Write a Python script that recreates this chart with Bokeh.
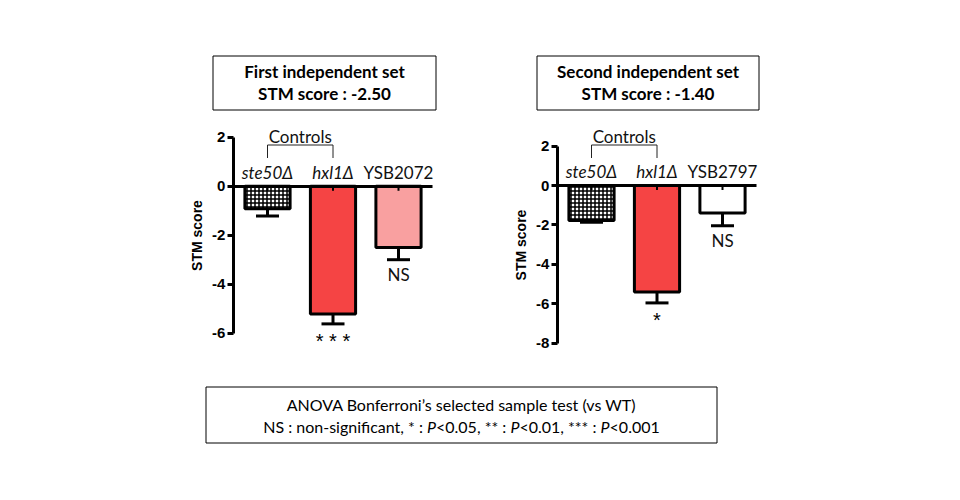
import subprocess
from bokeh.plotting import figure
from bokeh.models import (Range1d, LinearAxis, FixedTicker, BoxAnnotation,
                          ColumnDataSource, Whisker, TeeHead)
from bokeh.embed import file_html
from bokeh.resources import INLINE
from bokeh.core.properties import value

# ---------------- data ----------------
set1_categories = ["ste50Δ", "hxl1Δ", "YSB2072"]
set1_scores = [-0.92, -5.22, -2.50]
set1_errors = [0.30, 0.40, 0.50]
set1_signif = ["", "* * *", "NS"]
set1_ticks = [2, 0, -2, -4, -6]
set1_title = ["First independent set", "STM score : -2.50"]

set2_categories = ["ste50Δ", "hxl1Δ", "YSB2797"]
set2_scores = [-1.78, -5.40, -1.40]
set2_errors = [0.08, 0.56, 0.64]
set2_signif = ["", "*", "NS"]
set2_ticks = [2, 0, -2, -4, -6, -8]
set2_title = ["Second independent set", "STM score : -1.40"]

label_styles = ["italic", "italic", "normal"]
set1_fills = ["white", "#F54444", "#F9A0A0"]
set2_fills = ["white", "#F54444", "white"]
hatches = ["cross", " ", " "]

footer_line1 = "ANOVA Bonferroni’s selected sample test (vs WT)"
footer_line2 = [("NS : non-significant, * : ", "normal"), ("P", "italic"),
                ("<0.05, ** : ", "normal"), ("P", "italic"),
                ("<0.01, *** : ", "normal"), ("P", "italic"),
                ("<0.001", "normal")]

# ---------------- layout ----------------
W, H = 944, 484
SANS = "Lato"
ARIAL = "Liberation Sans"


def text_width(s, family, style, size):
    try:
        from PIL import ImageFont
        pat = family + (":" + style if style != "normal" else "")
        path = subprocess.run(["fc-match", "-f", "%{file}", pat],
                              capture_output=True, text=True).stdout.strip()
        f = ImageFont.truetype(path, size)
        return f.getlength(s)
    except Exception:
        return 0.48 * size * len(s)


p = figure(width=W, height=H, x_range=Range1d(0, W), y_range=Range1d(H, 0),
           x_axis_location=None, y_axis_location=None, min_border=0,
           toolbar_location=None, output_backend="svg",
           outline_line_color=None, background_fill_color="white")
p.grid.visible = False

# chart scales: (x of category 0, px per category, y px of zero, px per unit)
charts = [
    dict(name="1", x0=267, dx=65.5, y0=185.7, dy=24.5, cats=set1_categories,
         scores=set1_scores, errs=set1_errors, sig=set1_signif, ticks=set1_ticks,
         fills=set1_fills, title=set1_title, box=(212.5, 435.5, 55.5, 109.5)),
    dict(name="2", x0=591, dx=65.5, y0=185.0, dy=19.7, cats=set2_categories,
         scores=set2_scores, errs=set2_errors, sig=set2_signif, ticks=set2_ticks,
         fills=set2_fills, title=set2_title, box=(536.5, 758.5, 55.5, 109.5)),
]

for c in charts:
    xr, yr = "x" + c["name"], "y" + c["name"]
    p.extra_x_ranges[xr] = Range1d(-c["x0"] / c["dx"], (W - c["x0"]) / c["dx"])
    p.extra_y_ranges[yr] = Range1d(-(H - c["y0"]) / c["dy"], c["y0"] / c["dy"])

    idx = list(range(len(c["cats"])))
    lows = [s - e for s, e in zip(c["scores"], c["errs"])]
    stars = [s if s.startswith("*") else "" for s in c["sig"]]
    words = [s if not s.startswith("*") else "" for s in c["sig"]]
    src = ColumnDataSource(dict(idx=idx, cat=c["cats"], score=c["scores"],
                                low=lows, stars=stars, words=words,
                                fill=c["fills"], hatch=hatches,
                                style=label_styles))

    p.vbar(x="idx", top=0, bottom="score", width=0.69, source=src,
           fill_color="fill", line_color="black", line_width=3,
           hatch_pattern="hatch", hatch_color="black", hatch_scale=4,
           hatch_weight=1.5, x_range_name=xr, y_range_name=yr)

    # short stub of the error bar just under the zero line
    p.segment(x0="idx", x1="idx", y0=0, y1=-4.5 / c["dy"], source=src,
              line_color="black", line_width=2,
              x_range_name=xr, y_range_name=yr)

    wh = Whisker(base="idx", upper="score", lower="low", source=src,
                 dimension="height", line_width=3, line_color="black",
                 upper_head=None,
                 lower_head=TeeHead(size=23, line_width=3, line_color="black"),
                 x_range_name=xr, y_range_name=yr)
    p.add_layout(wh)

    # y axis
    yax = LinearAxis(x_range_name=xr, y_range_name=yr, fixed_location=-0.52,
                     bounds=(min(c["ticks"]), max(c["ticks"])),
                     ticker=FixedTicker(ticks=c["ticks"]),
                     major_label_overrides={t: str(t) for t in c["ticks"]},
                     axis_label="STM score",
                     axis_line_width=3, major_tick_line_width=3,
                     major_tick_out=6, major_tick_in=0,
                     minor_tick_line_color=None,
                     major_label_standoff=2,
                     major_label_text_font=ARIAL,
                     major_label_text_font_style="bold",
                     major_label_text_font_size="15px",
                     major_label_text_color="black",
                     axis_label_text_font=ARIAL,
                     axis_label_text_font_style="bold",
                     axis_label_text_font_size="14px",
                     axis_label_text_color="black",
                     axis_label_standoff=4)
    p.add_layout(yax, "left")

    # baseline at zero
    xax = LinearAxis(x_range_name=xr, y_range_name=yr, fixed_location=0,
                     bounds=(-0.52, len(idx) - 1 + 0.52),
                     ticker=FixedTicker(ticks=[]),
                     axis_line_width=3, major_tick_line_color=None,
                     minor_tick_line_color=None,
                     major_label_text_font_size="0px")
    p.add_layout(xax, "below")

    # category labels
    p.text(x="idx", y=0, text="cat", source=src, x_range_name=xr, y_range_name=yr,
           y_offset=-14, text_align="center", text_baseline="middle",
           text_font=value(SANS), text_font_style="style",
           text_font_size="17px", text_color="#111111")

    # significance labels
    p.text(x="idx", y="low", text="words", source=src, x_range_name=xr,
           y_range_name=yr, y_offset=15, text_align="center",
           text_baseline="middle", text_font=value(SANS),
           text_font_size="17px", text_color="#111111")
    p.text(x="idx", y="low", text="stars", source=src, x_range_name=xr,
           y_range_name=yr, y_offset=17, text_align="center",
           text_baseline="alphabetic", text_font=value(ARIAL),
           text_font_size="20px", text_color="black")

    # controls bracket (x in category units, y in page pixels)
    p.line(x=[0, 0, 1, 1], y=[157.5, 144.5, 144.5, 157.5], x_range_name=xr,
           line_color="#222222", line_width=1)
    p.text(x=[0.5], y=[135.5], text=["Controls"], x_range_name=xr,
           text_align="center", text_baseline="middle", text_font=value(SANS),
           text_font_size="17px", text_color="#111111")

    # title box
    l, r, t, b = c["box"]
    p.add_layout(BoxAnnotation(left=l, right=r, top=t, bottom=b,
                               fill_color=None, line_color="black",
                               line_alpha=1.0, line_width=1))
    p.text(x=[(l + r) / 2] * 2, y=[70.7, 93.3], text=c["title"],
           text_align="center", text_baseline="middle", text_font=value(SANS),
           text_font_style="bold", text_font_size="17px", text_color="black")

# footer box
fl, fr, ft, fb = 205.5, 716.5, 386.5, 442.5
p.add_layout(BoxAnnotation(left=fl, right=fr, top=ft, bottom=fb,
                           fill_color=None, line_color="black",
                           line_alpha=1.0, line_width=1))
fc = (fl + fr) / 2
p.text(x=[fc], y=[404], text=[footer_line1], text_align="center",
       text_baseline="middle", text_font=value(SANS), text_font_size="16px",
       text_color="black")

widths = [text_width(s, SANS, st, 16) for s, st in footer_line2]
xs = []
cur = fc - sum(widths) / 2
for w_ in widths:
    xs.append(cur)
    cur += w_
p.text(x=xs, y=[426] * len(xs), text=[s for s, _ in footer_line2],
       text_font_style=[st for _, st in footer_line2],
       text_align="left", text_baseline="middle", text_font=value(SANS),
       text_font_size="16px", text_color="black")

open("out.html", "w").write(file_html(p, INLINE))
